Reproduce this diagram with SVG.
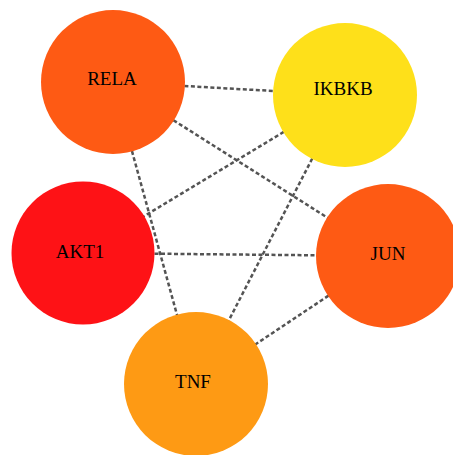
<svg xmlns="http://www.w3.org/2000/svg" width="453" height="455" viewBox="0 0 453 455">
<style>
.edge{stroke:#545454;stroke-width:2.5;stroke-dasharray:4 2.5;fill:none}
.lbl{font-family:"Liberation Serif","Times New Roman",serif;font-size:19px;fill:#000;text-anchor:middle;dominant-baseline:central}
</style>
<rect width="453" height="455" fill="#fff"/>
<g id="connectors">
<line class="edge" x1="113" y1="82" x2="345" y2="95"/>
<line class="edge" x1="113" y1="82" x2="388" y2="256"/>
<line class="edge" x1="113" y1="82" x2="196" y2="384"/>
<line class="edge" x1="345" y1="95" x2="83" y2="253"/>
<line class="edge" x1="345" y1="95" x2="196" y2="384"/>
<line class="edge" x1="83" y1="253" x2="388" y2="256"/>
<line class="edge" x1="388" y1="256" x2="196" y2="384"/>
</g>
<g id="RELA"><circle cx="113" cy="82" r="72" fill="#FE5A14"/><text class="lbl" x="112" y="78">RELA</text></g>
<g id="IKBKB"><circle cx="345" cy="95" r="72" fill="#FEE01A"/><text class="lbl" x="343" y="88">IKBKB</text></g>
<g id="AKT1"><circle cx="83" cy="253" r="71.5" fill="#FE1216"/><text class="lbl" x="80" y="251">AKT1</text></g>
<g id="JUN"><circle cx="388" cy="256" r="72" fill="#FE5A14"/><text class="lbl" x="388" y="253">JUN</text></g>
<g id="TNF"><circle cx="196" cy="384" r="72" fill="#FE9A14"/><text class="lbl" x="193" y="381">TNF</text></g>
</svg>
